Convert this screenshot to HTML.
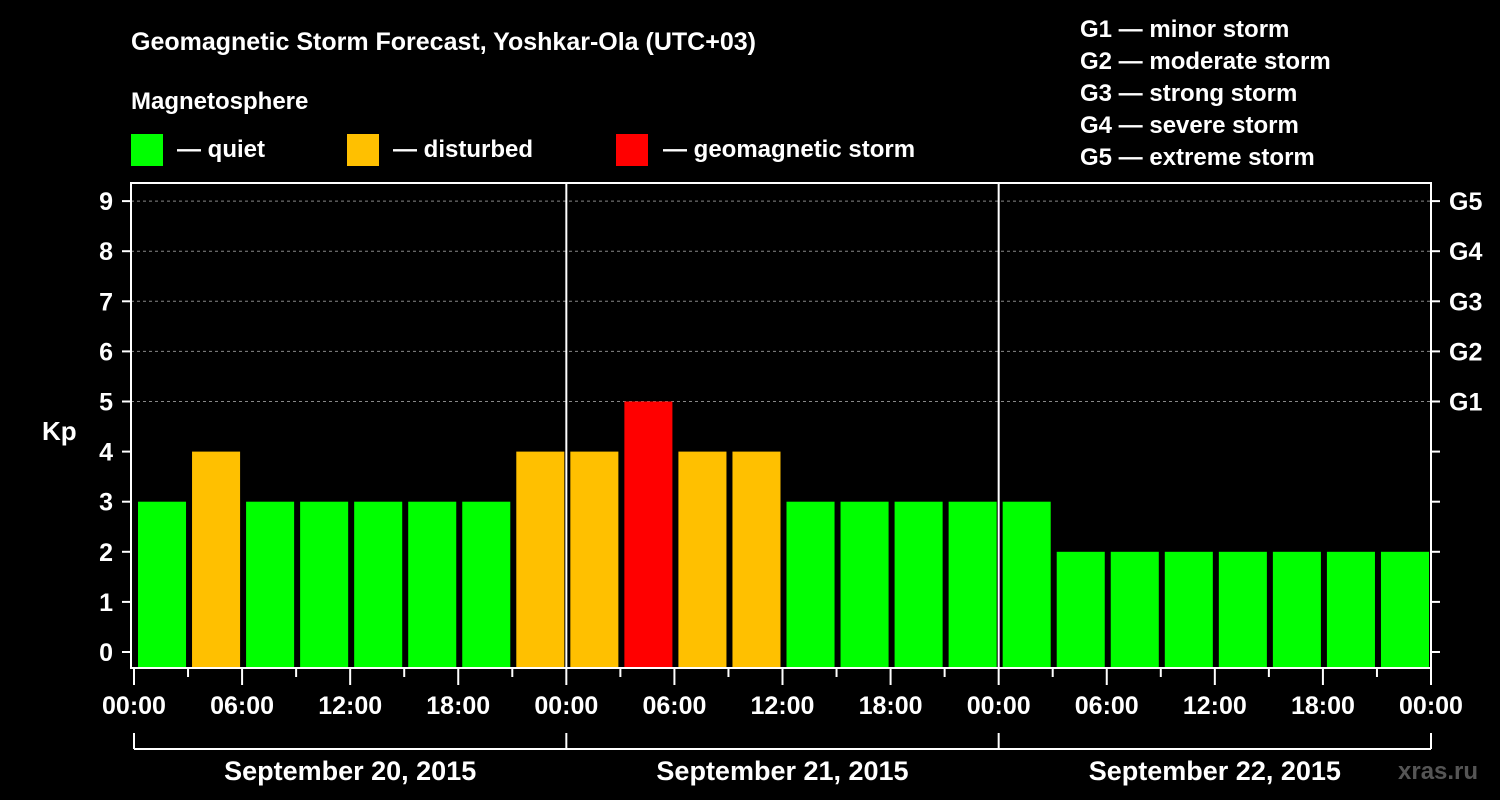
<!DOCTYPE html>
<html><head><meta charset="utf-8"><style>
html,body{margin:0;padding:0;background:#000;}
svg{display:block;font-family:"Liberation Sans",sans-serif;font-weight:bold;}
</style></head><body>
<svg id="c" width="1500" height="800" viewBox="0 0 1500 800">
<rect width="1500" height="800" fill="#000"/>
<text x="131" y="50" fill="#fff" font-size="25">Geomagnetic Storm Forecast, Yoshkar-Ola (UTC+03)</text>
<text x="131" y="109" fill="#fff" font-size="24">Magnetosphere</text>
<g><rect x="131" y="134" width="32" height="32" fill="#00ff00"/><text x="177" y="157" fill="#fff" font-size="24">— quiet</text></g>
<g><rect x="347" y="134" width="32" height="32" fill="#ffc000"/><text x="393" y="157" fill="#fff" font-size="24">— disturbed</text></g>
<g><rect x="616" y="134" width="32" height="32" fill="#ff0000"/><text x="663" y="157" fill="#fff" font-size="24">— geomagnetic storm</text></g>
<g fill="#fff" font-size="24">
<text x="1080" y="37">G1 — minor storm</text>
<text x="1080" y="69">G2 — moderate storm</text>
<text x="1080" y="101">G3 — strong storm</text>
<text x="1080" y="133">G4 — severe storm</text>
<text x="1080" y="165">G5 — extreme storm</text>
</g>
<text x="42" y="440" fill="#fff" font-size="26">Kp</text>
<text x="1398" y="779" fill="#555" font-size="24">xras.ru</text>
<g id="plot"></g>
</svg>
<script>
const kpValues=[3,4,3,3,3,3,3,4, 4,5,4,4,3,3,3,3, 3,2,2,2,2,2,2,2];
const yTicks=[0,1,2,3,4,5,6,7,8,9];
const gLabels=["G1","G2","G3","G4","G5"];
const xTickLabels=["00:00","06:00","12:00","18:00","00:00","06:00","12:00","18:00","00:00","06:00","12:00","18:00","00:00"];
const dayLabels=["September 20, 2015","September 21, 2015","September 22, 2015"];
const NS="http://www.w3.org/2000/svg";
const g=document.getElementById('plot');
const X0=134,X1=1431,L=131,T=183,B=668;
const x=h=>X0+h*(X1-X0)/72;
const y=k=>652-k*50.1;
function el(t,a,p){const e=document.createElementNS(NS,t);for(const k in a)e.setAttribute(k,a[k]);(p||g).appendChild(e);return e;}
function color(k){return k>=5?'#ff0000':(k>=4?'#ffc000':'#00ff00');}
// grid
for(let k=5;k<=9;k++){const e=el('line',{x1:L,x2:X1,y1:y(k),y2:y(k),stroke:'#888','stroke-dasharray':'3,3','stroke-width':1});

}
// bars
kpValues.forEach((v,i)=>{const x0=x(i*3)+4,x1=x(i*3+3)-2;
const r=el('rect',{x:x0,y:y(v),width:x1-x0,height:B-y(v),fill:color(v)});

});
// day separators
[1,2].forEach(d=>{const e=el('line',{x1:x(d*24),x2:x(d*24),y1:T,y2:B,stroke:'#fff','stroke-width':2});

});
// frame
const f=el('rect',{x:L,y:T,width:X1-L,height:B-T,fill:'none',stroke:'#fff','stroke-width':2});


// y ticks
yTicks.forEach(k=>{
el('line',{x1:L-9,x2:L,y1:y(k),y2:y(k),stroke:'#fff','stroke-width':2});
el('line',{x1:X1,x2:X1+9,y1:y(k),y2:y(k),stroke:'#fff','stroke-width':2});
const t=el('text',{x:113,y:y(k)+9,fill:'#fff','font-size':25,'text-anchor':'end'});t.textContent=k;

});
gLabels.forEach((s,i)=>{const t=el('text',{x:1449,y:y(5+i)+9,fill:'#fff','font-size':25});t.textContent=s;

});
// x ticks
for(let h=0;h<=72;h+=3){const long=h%6===0;el('line',{x1:x(h),x2:x(h),y1:B,y2:B+(long?17:9),stroke:'#fff','stroke-width':2});}
xTickLabels.forEach((s,i)=>{const t=el('text',{x:x(i*6),y:714,fill:'#fff','font-size':25,'text-anchor':'middle'});t.textContent=s;

});
// date bracket
el('line',{x1:X0,x2:X1,y1:749,y2:749,stroke:'#fff','stroke-width':2});
for(let d=0;d<=3;d++)el('line',{x1:x(d*24),x2:x(d*24),y1:733,y2:749,stroke:'#fff','stroke-width':2});
dayLabels.forEach((s,i)=>{const t=el('text',{x:x(i*24+12),y:780,fill:'#fff','font-size':27,'text-anchor':'middle'});t.textContent=s;

});
</script>
</body></html>
